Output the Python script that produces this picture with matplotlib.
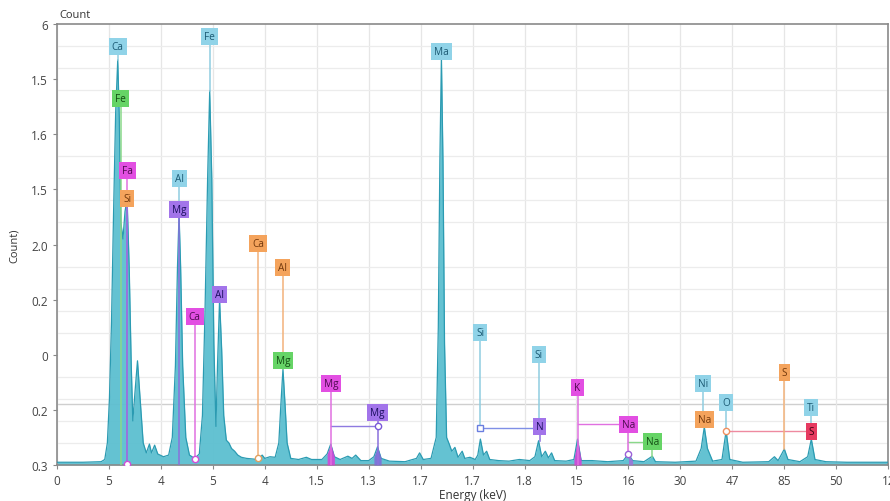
import numpy as np
import matplotlib.pyplot as plt
from matplotlib.ticker import MultipleLocator

plt.rcParams['font.family'] = ['Open Sans', 'DejaVu Sans']

# tick labels as printed on the chart
xtick_labels = ['0', '5', '4', '5', '4', '1.5', '1.3', '1.7', '1.7', '1.8',
                '15', '16', '30', '47', '85', '50', '12']
ytick_labels = ['0.3', '0.2', '0', '0.2', '2.0', '1.5', '1.6', '1.5', '6']

# spectrum outline (x in tick steps, y in tick steps)
spec_x = [0.00, 0.50, 0.85, 0.92, 0.97, 1.01, 1.05, 1.09, 1.13, 1.17, 1.20, 1.23,
          1.27, 1.31, 1.35, 1.39, 1.43, 1.46, 1.50, 1.55, 1.60, 1.66, 1.72, 1.78,
          1.82, 1.88, 1.94, 2.05, 2.15, 2.22, 2.28, 2.32, 2.35, 2.38, 2.42, 2.48,
          2.55, 2.65, 2.74, 2.80, 2.85, 2.90, 2.94, 2.98, 3.02, 3.06, 3.09, 3.13,
          3.17, 3.21, 3.26, 3.31, 3.36, 3.42, 3.48, 3.55, 3.65, 3.75, 3.87, 3.95,
          4.00, 4.10, 4.20, 4.27, 4.31, 4.35, 4.39, 4.43, 4.50, 4.65, 4.80, 4.90,
          5.10, 5.20, 5.27, 5.34, 5.45, 5.60, 5.68, 5.75, 5.85, 6.00, 6.10, 6.17,
          6.24, 6.40, 6.70, 6.92, 6.98, 7.05, 7.20, 7.30, 7.34, 7.37, 7.40, 7.43,
          7.46, 7.50, 7.55, 7.60, 7.66, 7.72, 7.80, 7.85, 7.95, 8.05, 8.10, 8.15,
          8.21, 8.27, 8.33, 8.50, 8.70, 8.90, 9.10, 9.20, 9.27, 9.33, 9.40, 9.46,
          9.52, 9.58, 9.80, 9.95, 10.02, 10.09, 10.30, 10.60, 10.90, 11.00, 11.08,
          11.30, 11.46, 11.52, 11.90, 12.30, 12.40, 12.46, 12.52, 12.62, 12.80,
          12.88, 12.95, 13.20, 13.70, 13.81, 13.88, 13.95, 14.00, 14.07, 14.30,
          14.45, 14.52, 14.59, 14.80, 15.20, 16.00]
spec_y = [0.05, 0.05, 0.06, 0.10, 0.40, 1.20, 2.60, 4.60, 6.40, 7.35, 6.30, 4.40,
          4.10, 4.60, 4.83, 3.60, 1.80, 0.80, 1.30, 1.89, 1.20, 0.40, 0.22, 0.38,
          0.22, 0.36, 0.20, 0.15, 0.18, 0.50, 1.80, 3.60, 4.55, 3.60, 1.80, 0.50,
          0.18, 0.12, 0.20, 0.90, 2.80, 5.20, 6.79, 5.20, 2.20, 0.70, 1.80, 3.00,
          2.10, 0.90, 0.45, 0.40, 0.30, 0.25, 0.18, 0.14, 0.12, 0.11, 0.10, 0.18,
          0.12, 0.15, 0.14, 0.40, 1.10, 1.74, 1.10, 0.40, 0.12, 0.10, 0.14, 0.10,
          0.10, 0.20, 0.38, 0.15, 0.10, 0.16, 0.12, 0.18, 0.08, 0.08, 0.15, 0.33,
          0.12, 0.07, 0.06, 0.12, 0.22, 0.10, 0.12, 0.50, 2.50, 5.50, 7.40, 5.50,
          2.20, 0.50, 0.38, 0.25, 0.32, 0.14, 0.25, 0.12, 0.14, 0.10, 0.18, 0.47,
          0.18, 0.25, 0.10, 0.08, 0.07, 0.10, 0.08, 0.15, 0.44, 0.15, 0.25, 0.13,
          0.22, 0.08, 0.07, 0.10, 0.47, 0.08, 0.08, 0.06, 0.08, 0.20, 0.08,
          0.06, 0.16, 0.06, 0.05, 0.07, 0.30, 0.69, 0.30, 0.07, 0.10,
          0.62, 0.10, 0.05, 0.06, 0.15, 0.08, 0.20, 0.29, 0.10, 0.06,
          0.15, 0.47, 0.10, 0.06, 0.05, 0.05]

# element tags: name, x, y of box, colour key, leader colour key, leader end y
tag_names = ['Ca', 'Fe', 'Fa', 'Si', 'Al', 'Mg', 'Fe', 'Al', 'Ca', 'Ca', 'Al', 'Mg',
             'Mg', 'Mg', 'Ma', 'Si', 'Si', 'N', 'K', 'Na', 'Na', 'Ni', 'Na', 'O',
             'S', 'Ti', 'S']
tag_x = [1.17, 1.23, 1.35, 1.35, 2.35, 2.35, 2.94, 3.13, 2.65, 3.87, 4.35, 4.35,
         5.27, 6.17, 7.40, 8.15, 9.27, 9.29, 10.02, 11.00, 11.46, 12.44, 12.46, 12.88,
         14.00, 14.52, 14.52]
tag_y = [7.59, 6.64, 5.34, 4.83, 5.19, 4.63, 7.77, 3.10, 2.69, 4.01, 3.59, 1.89,
         1.47, 0.96, 7.51, 2.41, 2.01, 0.69, 1.40, 0.74, 0.42, 1.47, 0.83, 1.13,
         1.67, 1.05, 0.60]
tag_kind = ['cyan', 'green', 'magenta', 'orange', 'cyan', 'purple', 'cyan', 'purple',
            'magenta', 'orange', 'orange', 'green', 'magenta', 'purple', 'cyan', 'cyan',
            'cyan', 'purple', 'magenta', 'magenta', 'green', 'cyan', 'orange', 'cyan',
            'orange', 'cyan', 'red']
tag_line = ['cyan', 'green', 'magenta', 'purple', 'cyan', 'purple', 'cyan', 'purple',
            'magenta', 'orange', 'orange', 'green', 'magenta', 'purple', 'cyan', 'cyan',
            'cyan', 'purple', 'magenta', 'magenta', 'green', 'cyan', 'orange', 'cyan',
            'orange', 'cyan', 'red']
tag_end = [7.35, 0.0, 0.0, 0.0, 4.63, 0.0, 6.79, 3.00, 0.10, 0.12, 1.89, 1.74,
           0.0, 0.0, 7.40, 0.67, 0.69, 0.44, 0.0, 0.20, 0.15, 0.83, 0.69, 0.62,
           0.29, 0.60, 0.47]

box_col = {'cyan': '#90d3e8', 'green': '#66d466', 'magenta': '#e24fe2',
           'orange': '#f4a35c', 'purple': '#a274ea', 'red': '#e63a60'}
txt_col = {'cyan': '#1b5a74', 'green': '#134d13', 'magenta': '#4e0a50',
           'orange': '#73380c', 'purple': '#1c1060', 'red': '#3c0010'}
line_col = {'cyan': '#8fcde0', 'green': '#8ad88a', 'magenta': '#e070e0',
            'orange': '#f2b27a', 'purple': '#8a70dc', 'red': '#ee8aa0'}

# connectors between tags: x0, x1, y, colour
conn_x0 = [5.27, 8.15, 10.02, 11.00, 12.88]
conn_x1 = [6.17, 9.29, 11.00, 11.46, 14.52]
conn_y = [0.71, 0.68, 0.74, 0.42, 0.61]
conn_c = ['#8e7ae0', '#7f8fe6', '#e070e0', '#8ad88a', '#ee8aa0']

# small markers: x, y, marker, colour
mark_x = [2.65, 1.35, 3.87, 6.17, 8.15, 11.00, 12.88]
mark_y = [0.10, 0.02, 0.12, 0.71, 0.67, 0.20, 0.62]
mark_m = ['o', 'o', 'o', 'o', 's', 'o', 'o']
mark_c = ['#d04fd8', '#d04fd8', '#e0a060', '#7a5ad8', '#6a7ee0', '#9a60d8', '#f09060']

# coloured peak areas: x range, colour
hl_lo = [5.18, 9.94, 6.08, 10.92]
hl_hi = [5.36, 10.10, 6.26, 11.08]
hl_c = ['#d93fd9', '#d93fd9', '#7f6ad8', '#a070d8']

fig = plt.figure(figsize=(8.9, 5.02), dpi=100)
ax = fig.add_axes([0.064, 0.0717, 0.934, 0.8785])

sx = np.array(spec_x)
sy = np.array(spec_y)

ax.yaxis.set_minor_locator(MultipleLocator(0.4))
ax.grid(which='major', axis='x', color='#e6e6e6', lw=0.9)
ax.grid(which='minor', axis='y', color='#ececec', lw=0.9)
ax.axhline(1.1, color='#cfcfcf', lw=1.0, zorder=0.5)
ax.set_axisbelow(True)

ax.fill_between(sx, 0, sy, color='#5cbfd0', alpha=0.95, lw=0, zorder=2)
ax.plot(sx, sy, color='#2b9bb2', lw=0.9, zorder=3)
for lo, hi, c in zip(hl_lo, hl_hi, hl_c):
    m = (sx >= lo) & (sx <= hi)
    ax.fill_between(sx[m], 0, sy[m], color=c, alpha=0.85, lw=0, zorder=4)

for x0, x1, y, c in zip(conn_x0, conn_x1, conn_y, conn_c):
    ax.plot([x0, x1], [y, y], color=c, lw=1.0, zorder=5)

for n, x, y, k, lk, e in zip(tag_names, tag_x, tag_y, tag_kind, tag_line, tag_end):
    ax.plot([x, x], [e, y], color=line_col[lk], lw=1.1, zorder=5)
    ax.text(x, y, n, ha='center', va='center', fontsize=7.2, color=txt_col[k],
            zorder=7, bbox=dict(boxstyle='square,pad=0.3', fc=box_col[k], ec='none'))

for x, y, m, c in zip(mark_x, mark_y, mark_m, mark_c):
    ax.plot(x, y, marker=m, ms=4.5, mfc='white', mec=c, mew=1.0, zorder=6)

ax.set_xlim(0, 16)
ax.set_ylim(0, 8)
ax.set_xticks(range(17))
ax.set_xticklabels(xtick_labels)
ax.set_yticks(range(9))
ax.set_yticklabels(ytick_labels)
ax.tick_params(axis='both', which='major', labelsize=8.5, colors='#444444',
               length=3, width=0.8, color='#888888')
ax.tick_params(which='minor', length=0)
for s in ax.spines.values():
    s.set_color('#8a8a8a')
    s.set_linewidth(1.2)

ax.text(0.003, 1.008, 'Count', transform=ax.transAxes, ha='left', va='bottom',
        fontsize=8, color='#333333')
ax.set_ylabel('Count)', fontsize=8, color='#333333', labelpad=8)
ax.set_xlabel('Energy (keV)', fontsize=8.5, color='#333333', labelpad=1)

fig.savefig('out.png', dpi=100)
